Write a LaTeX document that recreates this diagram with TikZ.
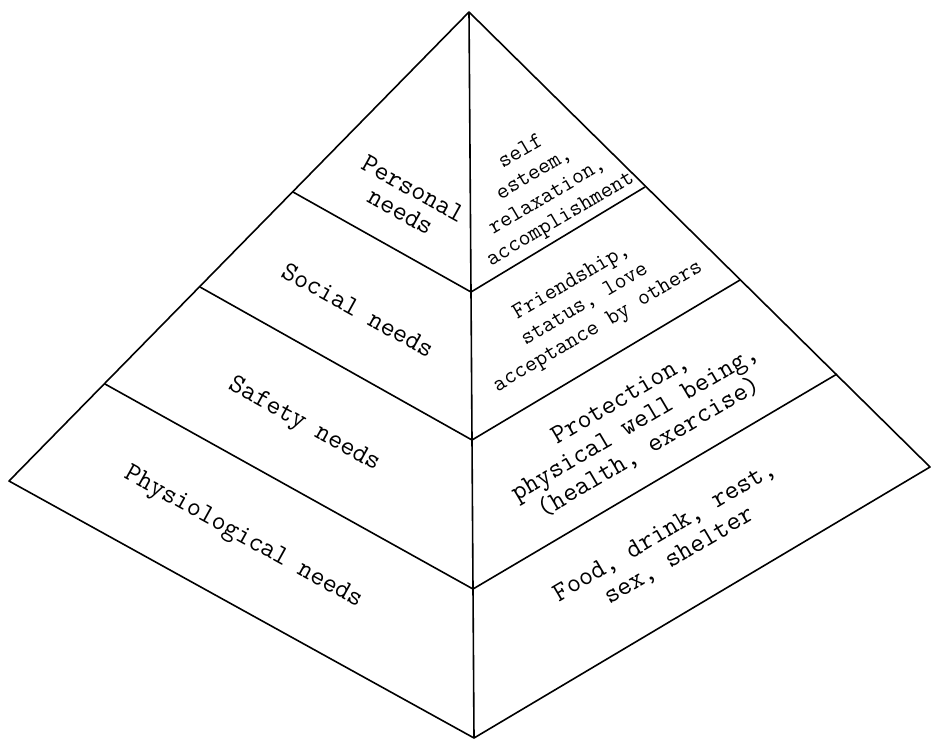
\documentclass[tikz,border=0pt]{standalone}
\begin{document}
\begin{tikzpicture}[x=1pt,y=-1pt,
  edge/.style={line width=1.6pt, line join=round},
  lefttxt/.style={font=\ttfamily\fontsize{27.4}{26}\selectfont, align=center, rotate=-29, inner sep=0pt},
  righttxt/.style={font=\ttfamily\fontsize{27.4}{28}\selectfont, align=center, rotate=30.6, inner sep=0pt},
  smalltxt/.style={font=\ttfamily\fontsize{23.2}{26}\selectfont, align=center, rotate=30.6, inner sep=0pt}]
\useasboundingbox (0,0) rectangle (931,740);
% corners
\coordinate (apex) at (469,12);
\coordinate (L) at (9,481);
\coordinate (B) at (474,738);
\coordinate (R) at (930,467);
% centre line points
\coordinate (c1) at (471,292);
\coordinate (c2) at (472,440);
\coordinate (c3) at (473,589);
% left edge points
\coordinate (l1) at (293,192);
\coordinate (l2) at (200,287);
\coordinate (l3) at (105,384);
% right edge points
\coordinate (r1) at (645,187);
\coordinate (r2) at (740,280);
\coordinate (r3) at (837,374);
% outline
\draw[edge] (apex) -- (L) -- (B) -- (R) -- cycle;
\draw[edge] (apex) -- (c1) -- (c2) -- (c3) -- (B);
\draw[edge] (l1) -- (c1) -- (r1);
\draw[edge] (l2) -- (c2) -- (r2);
\draw[edge] (l3) -- (c3) -- (r3);
% left labels
\node[lefttxt] (personal) at (407,200) {Personal\\needs};
\node[lefttxt] (social) at (358,310) {Social needs};
\node[lefttxt] (safety) at (304,425) {Safety needs};
\node[lefttxt] (physio) at (243,538) {Physiological needs};
% right labels
\node[smalltxt] (esteem) at (541,186) {self\\esteem,\\relaxation,\\accomplishment};
\node[smalltxt] (friend) at (585,305) {Friendship,\\status, love\\acceptance by others};
\node[righttxt] (protect) at (635,424) {Protection,\\physical well being,\\(health, exercise)};
\node[righttxt] (food) at (672,544) {Food, drink, rest,\\sex, shelter};
\end{tikzpicture}
\end{document}
